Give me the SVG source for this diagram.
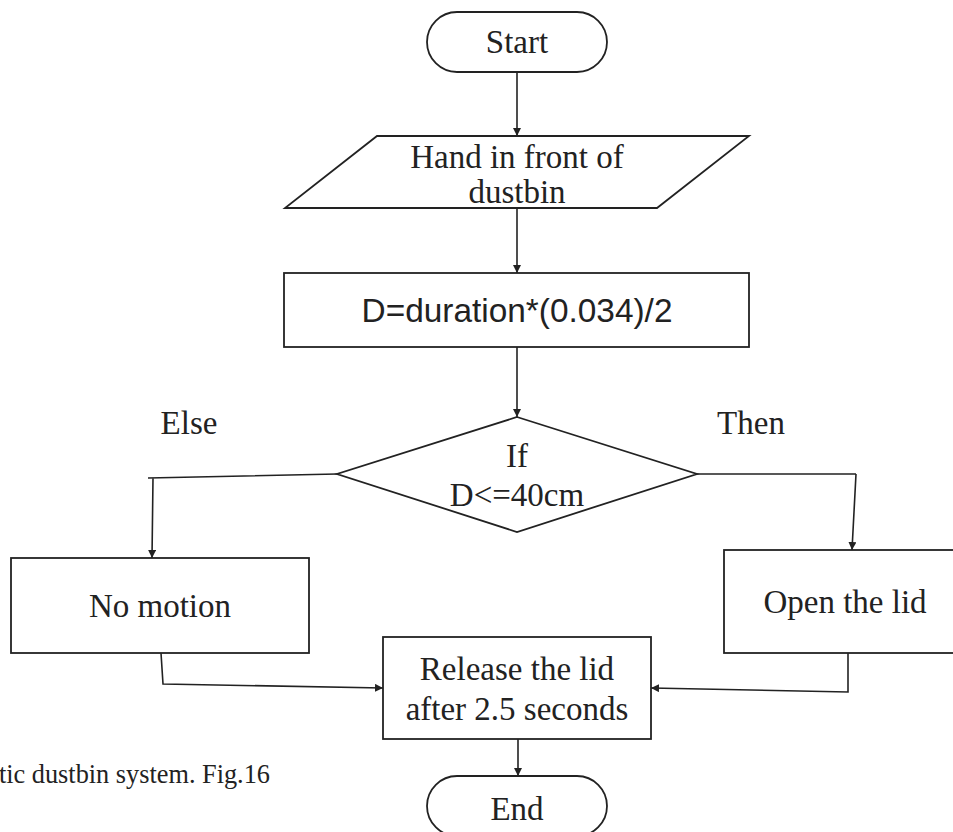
<svg xmlns="http://www.w3.org/2000/svg" width="953" height="832" viewBox="0 0 953 832">
<defs>
<style>
.s{fill:#fff;stroke:#222;stroke-width:1.8}
.t{font-family:"Liberation Serif","Times New Roman",serif;font-size:33px;fill:#222;text-anchor:middle}
.a{font-family:"Liberation Sans",Arial,sans-serif;font-size:33.4px;fill:#222;text-anchor:middle}
.c{fill:none;stroke:#222;stroke-width:1.6}
</style>
<marker id="ah" viewBox="0 0 10 10" refX="10" refY="5" markerWidth="8" markerHeight="8" markerUnits="userSpaceOnUse" orient="auto">
<path d="M0,0 L10,5 L0,10 z" fill="#222"/>
</marker>
</defs>
<rect width="953" height="832" fill="#fff"/>
<g id="connectors">
<path class="c" d="M517,72 V136" marker-end="url(#ah)"/>
<path class="c" d="M517,208 V273" marker-end="url(#ah)"/>
<path class="c" d="M517,347 V417" marker-end="url(#ah)"/>
<path class="c" d="M337,474 L148,478 M153,478 L152,558" marker-end="url(#ah)"/>
<path class="c" d="M697,474 H856 M856,474 L852,550" marker-end="url(#ah)"/>
<path class="c" d="M161,653 L163,684 L383,688" marker-end="url(#ah)"/>
<path class="c" d="M848,653 V692 L651,688" marker-end="url(#ah)"/>
<path class="c" d="M518,739 V776" marker-end="url(#ah)"/>
</g>
<g id="start">
<rect class="s" x="427" y="12" width="180" height="60" rx="30" ry="30"/>
<text class="t" x="517" y="53">Start</text>
</g>
<g id="input">
<polygon class="s" points="377,136 749,136 657,208 285,208"/>
<text class="t" x="517" y="168">Hand in front of</text>
<text class="t" x="517" y="203">dustbin</text>
</g>
<g id="compute">
<rect class="s" x="284" y="273" width="465" height="74"/>
<text class="a" x="517" y="322">D=duration*(0.034)/2</text>
</g>
<g id="decision">
<polygon class="s" points="517,417 697,474 517,532 337,474"/>
<text class="t" x="517" y="467">If</text>
<text class="t" x="517" y="506">D&lt;=40cm</text>
</g>
<g id="label-else">
<text class="t" x="189" y="434">Else</text>
</g>
<g id="label-then">
<text class="t" x="751" y="434">Then</text>
</g>
<g id="no-motion">
<rect class="s" x="11" y="558" width="298" height="95"/>
<text class="t" x="160" y="617">No motion</text>
</g>
<g id="open-lid">
<rect class="s" x="724" y="550" width="240" height="103"/>
<text class="t" x="845" y="613">Open the lid</text>
</g>
<g id="release">
<rect class="s" x="383" y="637" width="268" height="102"/>
<text class="t" x="517" y="680">Release the lid</text>
<text class="t" x="517" y="720">after 2.5 seconds</text>
</g>
<g id="end">
<rect class="s" x="427" y="776" width="180" height="60" rx="30" ry="30"/>
<text class="t" x="517" y="820">End</text>
</g>
<g id="caption">
<text class="t" x="270" y="783" style="font-size:26.3px;text-anchor:end">tic dustbin system. Fig.16</text>
</g>
</svg>
